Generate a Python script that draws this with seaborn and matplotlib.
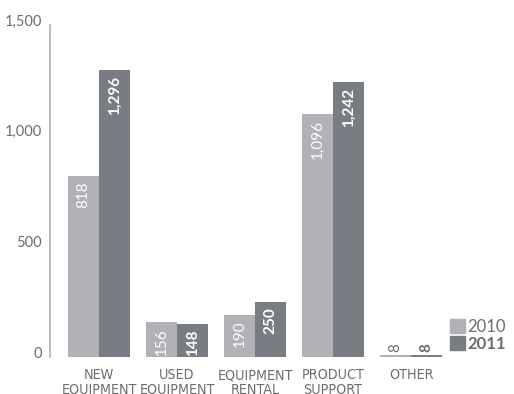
import pandas as pd
import matplotlib
matplotlib.use("Agg")
import matplotlib.pyplot as plt
import matplotlib.transforms as mtransforms
import seaborn as sns
from matplotlib.patches import Patch

# Data
categories = ["NEW\nEQUIPMENT", "USED\nEQUIPMENT", "EQUIPMENT\nRENTAL", "PRODUCT\nSUPPORT", "OTHER"]
years = ["2010", "2011"]
values_2010 = [818, 156, 190, 1096, 8]
values_2011 = [1296, 148, 250, 1242, 8]
label_2010 = ["818", "156", "190", "1,096", "8"]
label_2011 = ["1,296", "148", "250", "1,242", "8"]
y_ticks = [0, 500, 1000, 1500]
y_tick_labels = ["0", "500", "1,000", "1,500"]

df = pd.DataFrame({
    "category": categories * 2,
    "year": [years[0]] * len(categories) + [years[1]] * len(categories),
    "value": values_2010 + values_2011,
})

light = "#b2b1b6"
dark = "#7a7c84"
text_gray = "#6d6d6d"

sns.set_style("white")
plt.rcParams["font.family"] = ["Lato", "DejaVu Sans"]

fig = plt.figure(figsize=(5.14, 3.94), dpi=100)
ax = fig.add_axes([50 / 514, 37 / 394, 1 - 50 / 514, 332 / 394])

sns.barplot(data=df, x="category", y="value", hue="year", palette=[light, dark],
            width=0.8, saturation=1, legend=False, linewidth=0, ax=ax)

ax.set_ylim(0, 1500)
ax.set_xlim(-0.63, 5.32)
ax.set_yticks(y_ticks)
ax.set_yticklabels(y_tick_labels, fontsize=10.5, color=text_gray)
ax.tick_params(axis="y", length=0, pad=6)
ax.tick_params(axis="x", length=0, pad=8)
# y labels sit a little above their gridline in the original
shift = mtransforms.ScaledTranslation(0, 5 / 100, fig.dpi_scale_trans)
for lbl in ax.get_yticklabels():
    lbl.set_transform(lbl.get_transform() + shift)
for lbl in ax.get_xticklabels():
    lbl.set_fontfamily("DejaVu Sans")
    lbl.set_fontstretch("condensed")
    lbl.set_fontsize(10.3)
    lbl.set_color(text_gray)
    lbl.set_linespacing(1.05)
ax.set_xlabel("")
ax.set_ylabel("")
for s in ["top", "right", "bottom"]:
    ax.spines[s].set_visible(False)
ax.spines["left"].set_color("#b0b0b0")
ax.spines["left"].set_linewidth(1.2)

# Value labels
for container, labels, weight in zip(ax.containers, [label_2010, label_2011], ["normal", "bold"]):
    for bar, txt in zip(container, labels):
        x = bar.get_x() + bar.get_width() / 2
        h = bar.get_height()
        if h > 100:
            ax.text(x, h - 25, txt, rotation=90, ha="center", va="top", color="white",
                    fontsize=11, fontweight=weight)
        else:
            ax.text(x, h + 15, txt, rotation=90, ha="center", va="bottom", color=text_gray,
                    fontsize=11, fontweight=weight)

# Legend
handles = [Patch(color=light), Patch(color=dark)]
leg = ax.legend(handles, years, loc="lower right", bbox_to_anchor=(1.0, -0.01), frameon=False,
                fontsize=12, handlelength=0.9, handleheight=0.9, handletextpad=0.15,
                labelspacing=0.05, borderaxespad=0.1)
for t, w in zip(leg.get_texts(), ["normal", "bold"]):
    t.set_color(text_gray)
    t.set_fontweight(w)

fig.savefig("out.png", dpi=100)
